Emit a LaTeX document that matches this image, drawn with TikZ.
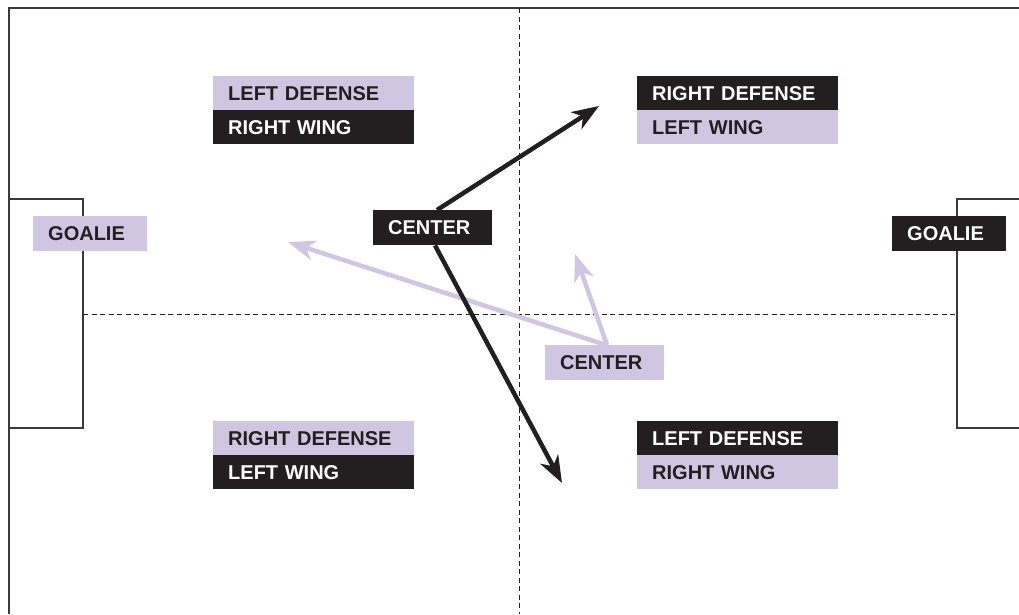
\documentclass[tikz,border=0pt]{standalone}
\usepackage{fontspec}
\setmainfont{Liberation Sans}
\usetikzlibrary{arrows.meta}
\definecolor{lav}{HTML}{D0C6E1}
\definecolor{ink}{HTML}{231F20}
\definecolor{framec}{HTML}{3A3A3A}
\begin{document}
\begin{tikzpicture}[x=1pt,y=-1pt,
  frame/.style={draw=framec,line width=1.1pt},
  midline/.style={draw=ink,line width=0.9pt,dash pattern=on 5pt off 3.5pt},
  lbl/.style={anchor=north west,inner xsep=15pt,inner ysep=0pt,align=left,
    font=\fontsize{20}{24}\selectfont\bfseries},
  lavbox/.style={lbl,fill=lav,text=ink},
  inkbox/.style={lbl,fill=ink,text=white},
  wide/.style={minimum height=34pt,text width=171pt},
  short/.style={minimum height=35pt,text width=89pt},
  goalbox/.style={minimum height=35pt,text width=84pt},
  inkarrow/.style={draw=ink,line width=4.5pt,-{Stealth[length=27pt,width=20pt,inset=8pt]}},
  lavarrow/.style={draw=lav,line width=4.5pt,-{Stealth[length=27pt,width=20pt,inset=8pt]}}]
\useasboundingbox (0,0) rectangle (1019,614);
\fill[white] (0,0) rectangle (1019,614);
% rink
\draw[frame] (9,614) -- (9,8) -- (1019,8);
\draw[frame] (9,199) -- (83,199) -- (83,428) -- (9,428);
\draw[frame] (1019,199) -- (957,199) -- (957,428) -- (1019,428);
\draw[midline] (519,8) -- (519,614);
\draw[midline] (83,314) -- (957,314);
% players
\node[lavbox,wide] (ld1) at (213,76) {LEFT DEFENSE};
\node[inkbox,wide] (rw1) at (213,110) {RIGHT WING};
\node[inkbox,wide] (rd1) at (637,76) {RIGHT DEFENSE};
\node[lavbox,wide] (lw1) at (637,110) {LEFT WING};
\node[lavbox,wide] (rd2) at (213,421) {RIGHT DEFENSE};
\node[inkbox,wide] (lw2) at (213,455) {LEFT WING};
\node[inkbox,wide] (ld2) at (637,421) {LEFT DEFENSE};
\node[lavbox,wide] (rw2) at (637,455) {RIGHT WING};
\node[lavbox,goalbox] (gl) at (33,216) {GOALIE};
\node[inkbox,goalbox] (gr) at (892,216) {GOALIE};
\node[inkbox,short] (cb) at (373,210) {CENTER};
\node[lavbox,short] (cl) at (545,345) {CENTER};
% arrow ends
\coordinate (t1) at (599,106);
\coordinate (t2) at (562,483);
\coordinate (t3) at (575,254);
\coordinate (t4) at (288,242);
% arrows
\draw[lavarrow] ([xshift=61pt]cl.north west) -- (t4);
\draw[lavarrow] ([xshift=62pt]cl.north west) -- (t3);
\draw[inkarrow] ([xshift=64pt]cb.north west) -- (t1);
\draw[inkarrow] ([xshift=62pt]cb.south west) -- (t2);
\end{tikzpicture}
\end{document}
